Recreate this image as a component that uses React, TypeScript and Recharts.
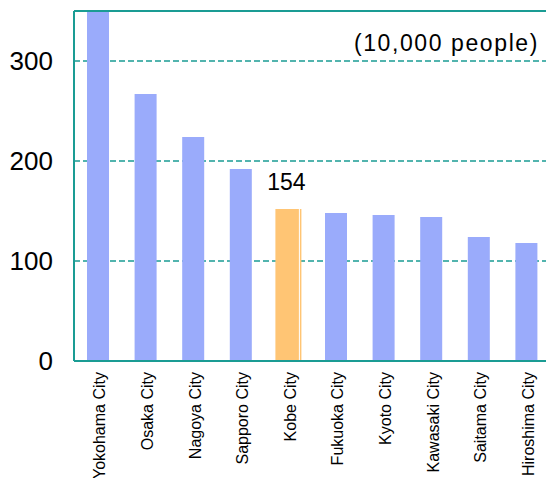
import React from 'react';
import { BarChart, Bar, XAxis, YAxis, CartesianGrid, ReferenceLine, Cell, LabelList } from 'recharts';

const cities = ['Yokohama City', 'Osaka City', 'Nagoya City', 'Sapporo City', 'Kobe City', 'Fukuoka City', 'Kyoto City', 'Kawasaki City', 'Saitama City', 'Hiroshima City'];
const population = [377, 267, 224, 192, 152, 148, 146, 144, 124, 118];
const yTicks = [0, 100, 200, 300];
const highlightCity = 'Kobe City';
const highlightLabel = '154';
const unitLabel = '(10,000 people)';

const data = cities.map((name, i) => ({ name, value: population[i] }));

const TEAL = '#1a9c94';
const BLUE = '#9aabfb';
const ORANGE = '#ffc574';
const FONT = '"Liberation Sans", Arial, sans-serif';

const XTick = (props: any) => {
  const { x, y, payload } = props;
  return (
    <text
      x={0}
      y={0}
      transform={`translate(${x + 2},${y + 3}) rotate(-90)`}
      textAnchor="end"
      dominantBaseline="central"
      fontSize={16}
      fontFamily={FONT}
      fill="#000"
    >
      {payload.value}
    </text>
  );
};

const YTick = (props: any) => {
  const { x, y, payload } = props;
  return (
    <text x={x} y={y} textAnchor="end" dominantBaseline="central" fontSize={26} fontFamily={FONT} fill="#000">
      {payload.value}
    </text>
  );
};

const BarShape = (props: any) => {
  const { x, y, width, height, fill, payload } = props;
  if (payload && payload.name === highlightCity) {
    return (
      <g>
        <rect x={x - 2} y={y} width={width + 4} height={height + 2} fill={fill} />
        <line x1={x + width} x2={x + width} y1={y} y2={y + height + 2} stroke="#fff" strokeWidth={1} />
      </g>
    );
  }
  return <rect x={x} y={y} width={width} height={height} fill={fill} />;
};

const HighlightLabel = (props: any) => {
  const { x, y, width, index } = props;
  if (cities[index] !== highlightCity) return null;
  return (
    <text x={x + width / 2 - 2} y={y - 27} textAnchor="middle" dominantBaseline="central" fontSize={23} fontFamily={FONT} fill="#000">
      {highlightLabel}
    </text>
  );
};

const UnitLabel = (props: any) => {
  const { viewBox } = props;
  return (
    <text x={539} y={viewBox.y - 10} textAnchor="end" fontSize={23} letterSpacing={1.6} fontFamily={FONT} fill="#000">
      {unitLabel}
    </text>
  );
};

export default function App() {
  return (
    <div style={{ position: 'fixed', left: 0, top: 0, width: 546, height: 478, overflow: 'hidden', background: '#fff' }}>
      <BarChart width={560} height={478} data={data} margin={{ top: 11, right: 10, left: 0, bottom: 0 }} barSize={22}>
        <CartesianGrid horizontal vertical={false} stroke={TEAL} strokeDasharray="6 3" strokeWidth={1.3} />
        <XAxis
          dataKey="name"
          height={117}
          interval={0}
          tickLine={false}
          axisLine={{ stroke: TEAL, strokeWidth: 2 }}
          tick={<XTick />}
        />
        <YAxis
          width={74}
          domain={[0, 350]}
          ticks={yTicks}
          allowDataOverflow
          tickLine={false}
          axisLine={{ stroke: TEAL, strokeWidth: 2 }}
          tick={<YTick />}
          tickMargin={15}
        />
        <ReferenceLine y={350} stroke={TEAL} strokeWidth={2} />
        <ReferenceLine y={300} stroke="none" label={<UnitLabel />} />
        <Bar dataKey="value" isAnimationActive={false} shape={<BarShape />}>
          {data.map((d) => (
            <Cell key={d.name} fill={d.name === highlightCity ? ORANGE : BLUE} />
          ))}
          <LabelList dataKey="value" content={<HighlightLabel />} />
        </Bar>
      </BarChart>
    </div>
  );
}
